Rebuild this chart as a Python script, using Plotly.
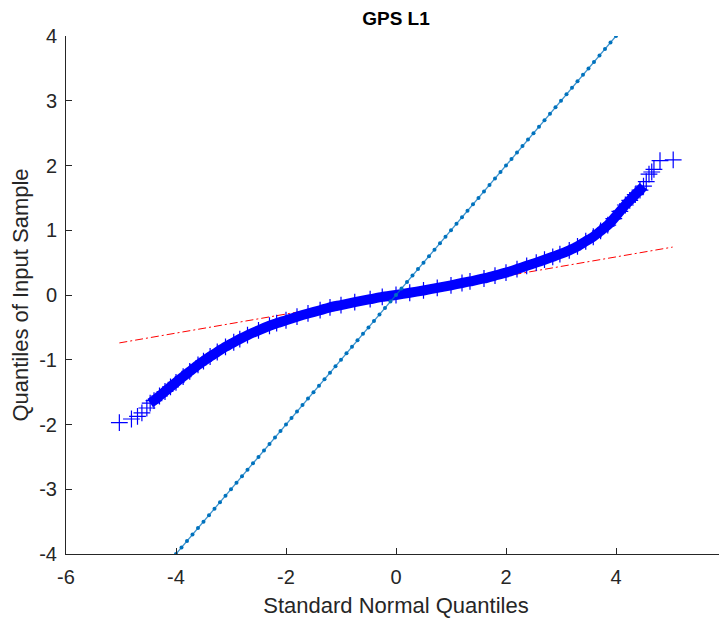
import plotly.graph_objects as go

# ---- data ----
# dense part of the sample-quantile curve (theoretical quantile, sample quantile)
band_x = [-4.47, -4.40, -4.30, -4.20, -4.10, -4.00, -3.87, -3.75, -3.60, -3.50,
          -3.38, -3.25, -3.10, -2.95, -2.84, -2.70, -2.50, -2.30, -2.17, -2.00,
          -1.80, -1.60, -1.38, -1.20, -1.00, -0.75, -0.47, -0.25, 0.00, 0.25,
          0.50, 0.75, 1.00, 1.20, 1.345, 1.60, 1.80, 2.00, 2.20, 2.376,
          2.55, 2.70, 2.85, 2.98, 3.15, 3.30, 3.45, 3.587, 3.72, 3.85,
          3.96, 4.07, 4.17, 4.25, 4.35, 4.436, 4.50]
band_y = [-1.67, -1.63, -1.56, -1.49, -1.42, -1.35, -1.26, -1.18, -1.08, -1.02,
          -0.95, -0.88, -0.80, -0.73, -0.68, -0.62, -0.545, -0.475, -0.435, -0.39,
          -0.335, -0.285, -0.235, -0.19, -0.155, -0.11, -0.065, -0.03, 0.00, 0.035,
          0.07, 0.11, 0.15, 0.185, 0.21, 0.255, 0.30, 0.345, 0.40, 0.45,
          0.50, 0.545, 0.59, 0.63, 0.69, 0.75, 0.83, 0.90, 0.99, 1.08,
          1.18, 1.29, 1.39, 1.46, 1.55, 1.62, 1.68]

# isolated tail points
tail_x = [-5.03, -4.81, -4.70, -4.62, -4.53, 4.55, 4.60, 4.65, 4.69, 4.80, 5.04]
tail_y = [-1.97, -1.915, -1.875, -1.82, -1.745, 1.75, 1.866, 1.90, 1.94, 2.075, 2.086]

# robust fit line (through quartiles, extended to the data range)
fit_x = [-5.03, 5.03]
fit_y = [-0.74, 0.74]

# reference line y = x with dot markers
ref_x = [-4.0, -3.9, -3.8, -3.7, -3.6, -3.5, -3.4, -3.3, -3.2, -3.1,
         -3.0, -2.9, -2.8, -2.7, -2.6, -2.5, -2.4, -2.3, -2.2, -2.1,
         -2.0, -1.9, -1.8, -1.7, -1.6, -1.5, -1.4, -1.3, -1.2, -1.1,
         -1.0, -0.9, -0.8, -0.7, -0.6, -0.5, -0.4, -0.3, -0.2, -0.1,
         0.0, 0.1, 0.2, 0.3, 0.4, 0.5, 0.6, 0.7, 0.8, 0.9,
         1.0, 1.1, 1.2, 1.3, 1.4, 1.5, 1.6, 1.7, 1.8, 1.9,
         2.0, 2.1, 2.2, 2.3, 2.4, 2.5, 2.6, 2.7, 2.8, 2.9,
         3.0, 3.1, 3.2, 3.3, 3.4, 3.5, 3.6, 3.7, 3.8, 3.9, 4.0]
ref_y = list(ref_x)

x_ticks = [-6, -4, -2, 0, 2, 4, 6]
y_ticks = [-4, -3, -2, -1, 0, 1, 2, 3, 4]

title_text = "GPS L1"
x_title = "Standard Normal Quantiles"
y_title = "Quantiles of Input Sample"

FONT = "Liberation Sans, Arial, Helvetica, sans-serif"
AX = "#262626"

fig = go.Figure()

fig.add_trace(go.Scatter(
    x=fit_x, y=fit_y, mode="lines",
    line=dict(color="#FF0000", width=1, dash="8px,3px,2px,3px"),
    hoverinfo="skip", showlegend=False))

fig.add_trace(go.Scatter(
    x=band_x, y=band_y, mode="lines+markers",
    line=dict(color="#0000FF", width=10, shape="spline", smoothing=0.6),
    marker=dict(symbol="cross-thin", size=12, line=dict(color="#0000FF", width=1.2)),
    showlegend=False))

fig.add_trace(go.Scatter(
    x=tail_x, y=tail_y, mode="markers",
    marker=dict(symbol="cross-thin", size=12, line=dict(color="#0000FF", width=1.2)),
    showlegend=False))

fig.add_trace(go.Scatter(
    x=ref_x, y=ref_y, mode="lines+markers",
    line=dict(color="rgba(0,114,189,0.75)", width=1.3),
    marker=dict(color="#0072BD", size=4),
    showlegend=False))

# the page body adds an 8px offset, so the figure is sized to fill the rest of the window
fig.update_layout(
    width=719, height=610,
    margin=dict(l=58, r=1, t=28, b=64, autoexpand=False),
    paper_bgcolor="white", plot_bgcolor="white",
    font=dict(family=FONT, color=AX, size=20),
    title=dict(text="<b>" + title_text + "</b>", x=0.5, xref="paper", xanchor="center",
               y=1 - 10 / 610, yanchor="middle", yref="container",
               font=dict(size=19, color="#000000", family=FONT)),
)

fig.update_xaxes(
    range=[-6, 6], tickvals=x_ticks, ticktext=[str(v) for v in x_ticks],
    showgrid=False, zeroline=False, showline=True, linecolor=AX, linewidth=1,
    ticks="inside", ticklen=6, tickcolor=AX, tickwidth=1, automargin=False,
    ticklabelstandoff=5, ticklabeloverflow="allow",
    tickfont=dict(size=20, color=AX, family=FONT),
    title=dict(text=x_title, font=dict(size=22, color=AX, family=FONT), standoff=14),
)
fig.update_yaxes(
    range=[-4, 4], tickvals=y_ticks, ticktext=[str(v) for v in y_ticks],
    showgrid=False, zeroline=False, showline=True, linecolor=AX, linewidth=1,
    ticks="inside", ticklen=6, tickcolor=AX, tickwidth=1, automargin=False,
    ticklabelstandoff=4, ticklabeloverflow="allow",
    tickfont=dict(size=20, color=AX, family=FONT),
    title=dict(text=y_title, font=dict(size=22, color=AX, family=FONT), standoff=5),
)

fig.write_html("out.html")
